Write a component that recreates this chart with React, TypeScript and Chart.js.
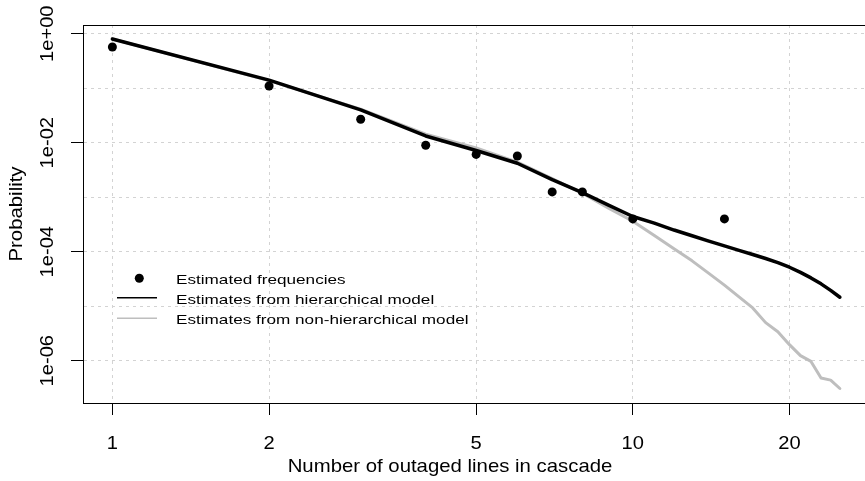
import React, { useEffect, useRef } from "react";
import { Chart, registerables } from "chart.js";

Chart.register(...registerables);

// ---- data ----
const lineX = [1, 2, 3, 4, 5, 6, 7, 8, 9, 10, 11, 12, 13, 14, 15, 16, 17, 18, 19, 20, 21, 22, 23, 24, 25];
const hierarchical = [
  0.8, 0.141, 0.04, 0.0133, 0.0072, 0.0042, 0.0021, 0.00121, 0.00071, 0.000443, 0.000335, 0.00025, 0.000196,
  0.000156, 0.000128, 0.000106, 8.9e-5, 7.5e-5, 6.3e-5, 5.19e-5, 4.17e-5, 3.31e-5, 2.57e-5, 1.95e-5, 1.46e-5,
];
const nonHierarchical = [
  0.8, 0.138, 0.0414, 0.0144, 0.008, 0.0044, 0.0022, 0.00118, 0.00062, 0.000363, 0.000198, 0.000113, 6.8e-5,
  4.0e-5, 2.44e-5, 1.48e-5, 9.3e-6, 5.0e-6, 3.4e-6, 1.97e-6, 1.24e-6, 9.7e-7, 4.8e-7, 4.4e-7, 3.09e-7,
];
const freqX = [1, 2, 3, 4, 5, 6, 7, 8, 10, 15];
const freqY = [0.57, 0.11, 0.0269, 0.009, 0.0061, 0.0057, 0.00125, 0.00125, 0.0004, 0.0004];

const xTicks = [1, 2, 5, 10, 20];
const xTickLabels = ["1", "2", "5", "10", "20"];
const yGridTicks = [1, 1e-1, 1e-2, 1e-3, 1e-4, 1e-5, 1e-6];
const yLabelTicks = [1, 1e-2, 1e-4, 1e-6];
const yTickLabels = ["1e+00", "1e-02", "1e-04", "1e-06"];
const seriesLabels = [
  "Estimated frequencies",
  "Estimates from hierarchical model",
  "Estimates from non-hierarchical model",
];
const xTitle = "Number of outaged lines in cascade";
const yTitle = "Probability";

const FONT = '"Liberation Sans", Arial, Helvetica, sans-serif';
const GRAY = "#bebebe";

function drawText(ctx: CanvasRenderingContext2D, text: string, x: number, y: number, sx: number, rot: number) {
  ctx.save();
  ctx.translate(x, y);
  ctx.rotate(rot);
  ctx.scale(sx, 1);
  ctx.fillText(text, 0, 0);
  ctx.restore();
}

const textPlugin = {
  id: "rtext",
  afterDraw(chart: any) {
    const { ctx, chartArea } = chart;
    const xs = chart.scales.x;
    const ys = chart.scales.y;
    ctx.save();
    // box
    ctx.strokeStyle = "#000";
    ctx.lineWidth = 1;
    ctx.strokeRect(
      Math.round(chartArea.left) + 0.5,
      Math.round(chartArea.top) + 0.5,
      chartArea.right - chartArea.left,
      chartArea.bottom - chartArea.top
    );
    ctx.fillStyle = "#000";
    ctx.textBaseline = "alphabetic";
    ctx.textAlign = "center";
    // x tick labels
    ctx.font = `17.5px ${FONT}`;
    xTicks.forEach((v, i) => {
      drawText(ctx, xTickLabels[i], xs.getPixelForValue(v), 448.5, 1.15, 0);
    });
    // y tick labels
    ctx.font = `19px ${FONT}`;
    yLabelTicks.forEach((v, i) => {
      drawText(ctx, yTickLabels[i], 53, ys.getPixelForValue(v), 1.06, -Math.PI / 2);
    });
    // titles
    ctx.font = `18.5px ${FONT}`;
    drawText(ctx, xTitle, 450, 472, 1.1, 0);
    drawText(ctx, yTitle, 21.5, (chartArea.top + chartArea.bottom) / 2, 1.1, -Math.PI / 2);
    // legend
    const ds = chart.data.datasets;
    ctx.beginPath();
    ctx.arc(139.3, 278.3, 4.5, 0, Math.PI * 2);
    ctx.fill();
    ctx.lineWidth = 1.5;
    ctx.strokeStyle = ds[1].borderColor;
    ctx.beginPath();
    ctx.moveTo(117, 297.7);
    ctx.lineTo(157, 297.7);
    ctx.stroke();
    ctx.strokeStyle = ds[2].borderColor;
    ctx.beginPath();
    ctx.moveTo(117, 318.3);
    ctx.lineTo(157, 318.3);
    ctx.stroke();
    ctx.textAlign = "left";
    ctx.font = `13.5px ${FONT}`;
    const baselines = [283.5, 304, 324.3];
    ds.forEach((d: any, i: number) => {
      drawText(ctx, d.label, 176, baselines[i], 1.27, 0);
    });
    ctx.restore();
  },
};

export default function App() {
  const ref = useRef<HTMLCanvasElement>(null);
  useEffect(() => {
    const canvas = ref.current;
    if (!canvas) return;
    const chart = new Chart(canvas, {
      type: "scatter",
      data: {
        datasets: [
          {
            label: seriesLabels[0],
            data: freqX.map((x, i) => ({ x, y: freqY[i] })),
            showLine: false,
            pointRadius: 4.5,
            pointBackgroundColor: "#000",
            pointBorderWidth: 0,
            backgroundColor: "#000",
            borderColor: "#000",
          },
          {
            label: seriesLabels[1],
            data: lineX.map((x, i) => ({ x, y: hierarchical[i] })),
            showLine: true,
            pointRadius: 0,
            borderColor: "#000",
            borderWidth: 3.5,
            borderCapStyle: "round",
            borderJoinStyle: "round",
            tension: 0,
          },
          {
            label: seriesLabels[2],
            data: lineX.map((x, i) => ({ x, y: nonHierarchical[i] })),
            showLine: true,
            pointRadius: 0,
            borderColor: GRAY,
            borderWidth: 3,
            borderCapStyle: "round",
            borderJoinStyle: "round",
            tension: 0,
          },
        ],
      } as any,
      options: {
        responsive: false,
        animation: false,
        events: [],
        layout: { padding: { left: 0, top: 25, right: 11, bottom: 0 } },
        plugins: { legend: { display: false }, tooltip: { enabled: false }, title: { display: false } },
        scales: {
          x: {
            type: "logarithmic",
            position: "bottom",
            min: Math.pow(10, -0.0565),
            max: Math.pow(10, 1.4539),
            afterBuildTicks: (s: any) => {
              s.ticks = xTicks.map((v) => ({ value: v }));
            },
            afterFit: (s: any) => {
              s.height = 78;
              s.paddingLeft = 0;
              s.paddingRight = 0;
            },
            ticks: { display: false },
            grid: {
              color: "#d3d3d3",
              lineWidth: 1,
              drawTicks: true,
              tickLength: 12,
              tickColor: "#000",
              tickWidth: 1,
            },
            border: { display: true, color: "#000", width: 1, dash: [3, 4] },
          },
          y: {
            type: "logarithmic",
            position: "left",
            min: Math.pow(10, -6.776),
            max: Math.pow(10, 0.16),
            afterBuildTicks: (s: any) => {
              s.ticks = yGridTicks.map((v) => ({ value: v }));
            },
            afterFit: (s: any) => {
              s.width = 83;
              s.paddingTop = 0;
              s.paddingBottom = 0;
            },
            ticks: { display: false },
            grid: {
              color: "#d3d3d3",
              lineWidth: 1,
              drawTicks: true,
              tickLength: 12,
              tickWidth: 1,
              tickColor: (c: any) => {
                const v = c.tick ? c.tick.value : 1;
                const e = Math.round(Math.log10(v));
                return e % 2 === 0 ? "#000" : "rgba(0,0,0,0)";
              },
            },
            border: { display: true, color: "#000", width: 1, dash: [3, 4] },
          },
        },
      } as any,
      plugins: [textPlugin],
    });
    return () => chart.destroy();
  }, []);
  return (
    <div
      style={{
        position: "fixed",
        left: 0,
        top: 0,
        width: 865,
        height: 481,
        overflow: "hidden",
        background: "#fff",
      }}
    >
      <canvas ref={ref} width={880} height={481} style={{ display: "block", width: 880, height: 481 }} />
    </div>
  );
}
